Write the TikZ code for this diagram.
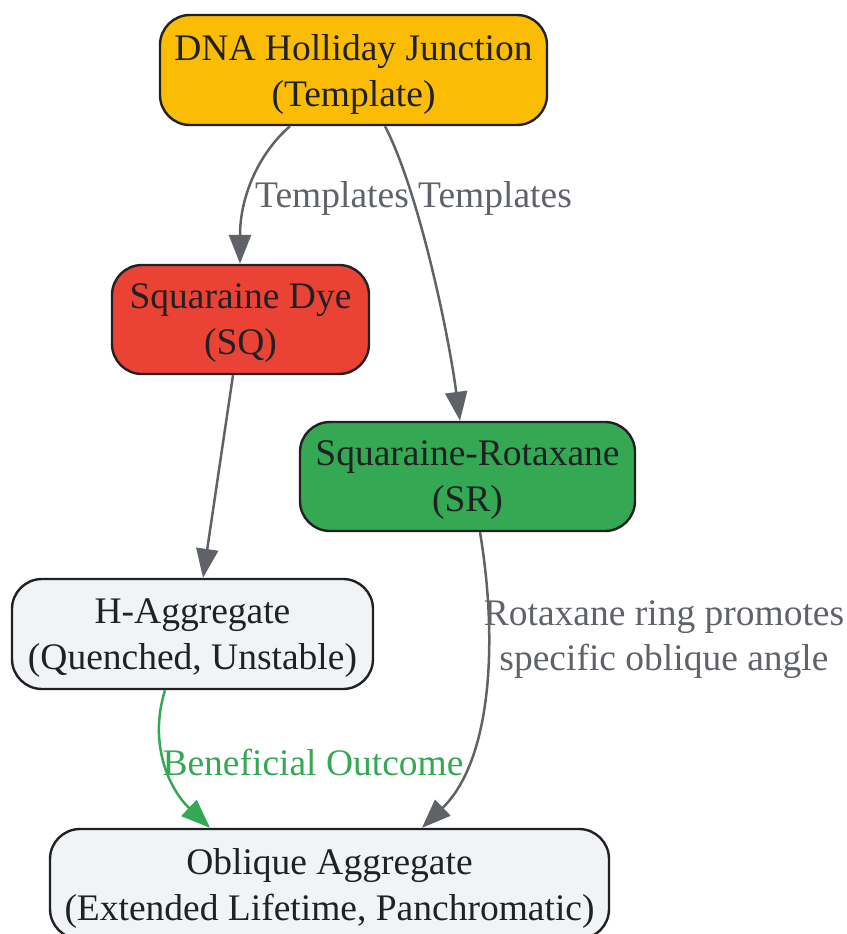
\documentclass[tikz,border=0pt]{standalone}
\usepackage{fontspec}
\setmainfont{Liberation Serif}
\usetikzlibrary{arrows.meta,calc}
\definecolor{edgegray}{HTML}{5F6368}
\definecolor{txtdark}{HTML}{202124}
\definecolor{boxyellow}{HTML}{FBBC04}
\definecolor{boxred}{HTML}{EA4335}
\definecolor{boxgreen}{HTML}{34A853}
\definecolor{boxgray}{HTML}{F1F3F4}
\tikzset{
  box/.style={draw=txtdark, line width=2.4pt, rounded corners=30pt, align=center,
    text=txtdark, inner sep=0pt, text depth=-8pt, font=\fontsize{37.5}{46}\selectfont},
  tipstyle/.style={-{Triangle[length=29pt,width=22pt]}},
  conn/.style={draw=edgegray, line width=2.5pt, tipstyle},
  goodconn/.style={draw=boxgreen, line width=2.5pt, tipstyle},
  elabel/.style={text=edgegray, align=center, inner sep=0pt, font=\fontsize{37.5}{45}\selectfont},
}
\begin{document}
\begin{tikzpicture}[x=1pt,y=-1pt]
\useasboundingbox (0,0) rectangle (846,934);
\node[box, fill=boxyellow, minimum width=387pt, minimum height=110pt] (dna) at (353.5,70) {DNA Holliday Junction\\(Template)};
\node[box, fill=boxred, minimum width=257pt, minimum height=109pt] (sq) at (240.5,319.5) {Squaraine Dye\\(SQ)};
\node[box, fill=boxgreen, minimum width=335pt, minimum height=109pt] (sr) at (467.5,476.5) {Squaraine-Rotaxane\\(SR)};
\node[box, fill=boxgray, minimum width=361pt, minimum height=110pt] (hagg) at (192.5,634) {H-Aggregate\\(Quenched, Unstable)};
\node[box, fill=boxgray, minimum width=559pt, minimum height=110pt] (obl) at (329.5,884) {Oblique Aggregate\\(Extended Lifetime, Panchromatic)};

\draw[conn] ($(dna.south)+(-63.5,0)$) .. controls (260,152) and (240,195) .. ($(sq.north)+(-0.5,0)$);
\draw[conn] ($(dna.south)+(31.5,0)$) .. controls (418,190) and (448,330) .. ($(sr.north)+(-7.5,0)$);
\draw[conn] ($(sq.south)+(-7.5,0)$) -- ($(hagg.north)+(10.5,0)$);
\draw[conn] ($(sr.south)+(12.5,0)$) .. controls (498,640) and (492,760) .. ($(obl.north)+(92.5,0)$);
\draw[goodconn] ($(hagg.south)+(-27.5,0)$) .. controls (148,745) and (170,790) .. ($(obl.north)+(-119.5,0)$);

\node[elabel] (l1) at (332,198) {Templates};
\node[elabel] (l2) at (495,198) {Templates};
\node[elabel] (l3) at (664,640) {Rotaxane ring promotes\\specific oblique angle};
\node[elabel, text=boxgreen] (l4) at (313,762) {Beneficial Outcome};
\end{tikzpicture}
\end{document}
